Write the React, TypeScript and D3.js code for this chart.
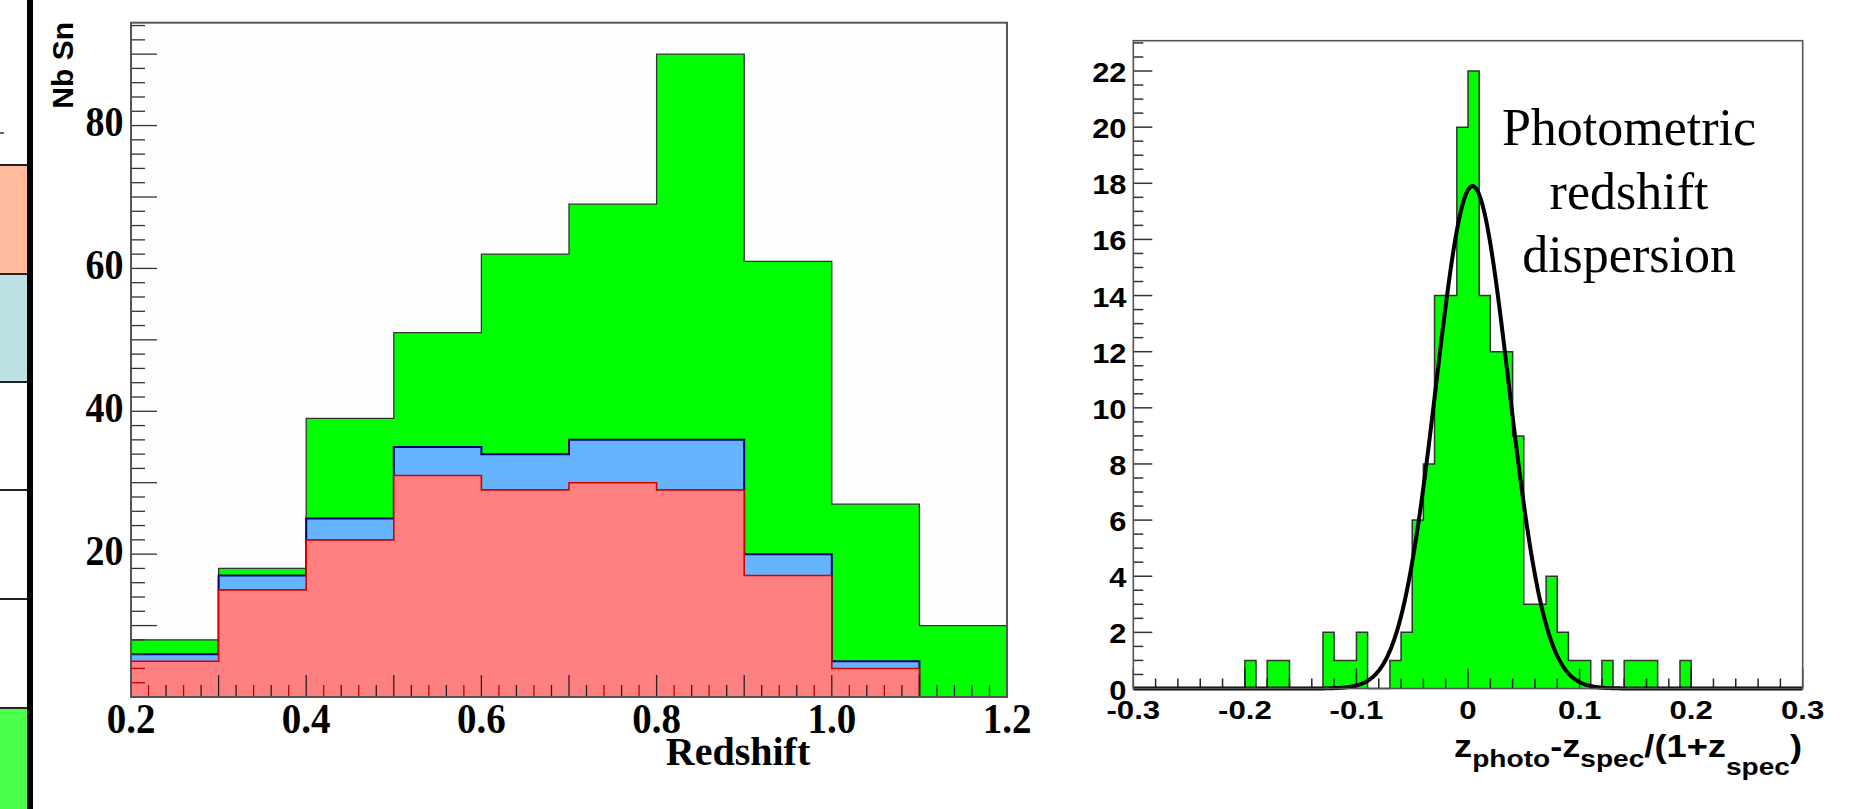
import * as d3 from "d3";

// ---- left panel: redshift distribution (stacked, drawn as overlays) ----
const redshiftEdges = [0.2, 0.3, 0.4, 0.5, 0.6, 0.7, 0.8, 0.9, 1.0, 1.1, 1.2];
const totalCounts = [8, 18, 39, 51, 62, 69, 90, 61, 27, 10];
const blueCounts = [6, 17, 25, 35, 34, 36, 36, 20, 5, 0]; // red + blue
const redCounts = [5, 15, 22, 31, 29, 30, 29, 17, 4, 0];
const leftYLabels = [20, 40, 60, 80];
const leftXLabels = [0.2, 0.4, 0.6, 0.8, 1.0, 1.2];

// ---- right panel: photometric redshift dispersion ----
const dispersionLow = -0.3;
const dispersionBinWidth = 0.01;
const dispersionCounts = [
  0, 0, 0, 0, 0, 0, 0, 0, 0, 0,
  1, 0, 1, 1, 0, 0, 0, 2, 1, 1,
  2, 0, 0, 1, 2, 6, 8, 14, 14, 20,
  22, 14, 12, 12, 9, 3, 3, 4, 2, 1,
  1, 0, 1, 0, 1, 1, 1, 0, 0, 1,
  0, 0, 0, 0, 0, 0, 0, 0, 0, 0,
];
// gaussian fit parameters
const fitConstant = 17.9;
const fitMean = 0.004;
const fitSigma = 0.0325;
const rightXLabels = [-0.3, -0.2, -0.1, 0, 0.1, 0.2, 0.3];
const rightYLabels = [0, 2, 4, 6, 8, 10, 12, 14, 16, 18, 20, 22];
const annotationLines = ["Photometric", "redshift", "dispersion"];

// cropped slide table on the far left
const stripCells = [
  { y0: 0, y1: 165, color: "#ffffff" },
  { y0: 165, y1: 274, color: "#ffbb9b" },
  { y0: 274, y1: 382, color: "#bde0e2" },
  { y0: 382, y1: 490, color: "#ffffff" },
  { y0: 490, y1: 599, color: "#ffffff" },
  { y0: 599, y1: 708, color: "#ffffff" },
  { y0: 708, y1: 809, color: "#4dff4d" },
];

const SANS = "'Liberation Sans', Arial, Helvetica, sans-serif";
const SERIF = "'Liberation Serif', 'Times New Roman', serif";

function stepPoints(edges: number[], counts: number[]): [number, number][] {
  const pts: [number, number][] = [[edges[0], 0]];
  counts.forEach((c, i) => {
    pts.push([edges[i], c]);
    pts.push([edges[i + 1], c]);
  });
  pts.push([edges[edges.length - 1], 0]);
  return pts;
}

function Txt({ x, y, sx = 1, sy = 1, anchor = "middle", size, family, weight = "bold", children }: any) {
  return (
    <text
      transform={`translate(${x},${y}) scale(${sx},${sy})`}
      textAnchor={anchor}
      fontSize={size}
      fontFamily={family}
      fontWeight={weight}
      fill="#000"
    >
      {children}
    </text>
  );
}

function LeftPanel() {
  const x0 = 131, x1 = 1007, yTop = 22.7, yBottom = 697;
  const x = d3.scaleLinear([0.2, 1.2], [x0, x1]);
  const y = d3.scaleLinear([0, 94.4], [yBottom, yTop]);
  const line = d3.line<[number, number]>().x(d => x(d[0])).y(d => y(d[1]));

  const yMinor = d3.range(0, 94.4, 2);
  const xMinor = d3.range(0, 51).map(i => 0.2 + i * 0.02);

  const redAt = (v: number) => {
    const i = Math.min(redCounts.length - 1, Math.floor((v - 0.2) / 0.1 + 1e-6));
    return redCounts[i] > 0;
  };

  return (
    <g>
      <rect x={x0} y={yTop} width={x1 - x0} height={yBottom - yTop} fill="#fefefe" />
      <path d={line(stepPoints(redshiftEdges, totalCounts))!} fill="#00ff00" stroke="#333" strokeWidth={1.3} />
      <path d={line(stepPoints(redshiftEdges, blueCounts))!} fill="#66b3ff" stroke="#00007a" strokeWidth={2} />
      <path d={line(stepPoints(redshiftEdges, redCounts))!} fill="#ff8080" stroke="#d40000" strokeWidth={1.6} />

      {/* y ticks */}
      {yMinor.map(v => {
        const major = Math.abs(v % 10) < 1e-6;
        return (
          <line key={`ly${v}`} x1={x0} x2={x0 + (major ? 26 : 14)} y1={y(v)} y2={y(v)}
            stroke={v > 0 && v < redCounts[0] ? "#c00000" : "#333"} strokeWidth={1.3} />
        );
      })}
      {/* x ticks */}
      {xMinor.map((v, i) => {
        const major = i % 5 === 0;
        return (
          <line key={`lx${i}`} x1={x(v)} x2={x(v)} y1={yBottom} y2={yBottom - (major ? 22 : 12)}
            stroke={!major && redAt(v) && i % 2 === 1 ? "#c00000" : "#222"} strokeWidth={1.3} />
        );
      })}
      <rect x={x0} y={yTop} width={x1 - x0} height={yBottom - yTop} fill="none" stroke="#555" strokeWidth={2} />

      {leftYLabels.map(v => (
        <Txt key={`lyl${v}`} x={123.5} y={y(v) + 10.5} sy={1.12} anchor="end" size={38} family={SERIF}>{v}</Txt>
      ))}
      {leftXLabels.map(v => (
        <Txt key={`lxl${v}`} x={x(v)} y={733} sy={1.1} size={39} family={SERIF}>{v.toFixed(1)}</Txt>
      ))}
      <Txt x={738} y={765} size={40} family={SERIF}>Redshift</Txt>
      <text transform="translate(73,22) rotate(-90)" textAnchor="end" fontSize={30}
        fontFamily={SANS} fontWeight="bold">Nb Sn</text>
    </g>
  );
}

function RightPanel() {
  const x0 = 1133.3, x1 = 1802.7, yTop = 40.7, yBottom = 688.5;
  const x = d3.scaleLinear([-0.3, 0.3], [x0, x1]);
  const y = d3.scaleLinear([0, 23.08], [yBottom, yTop]);
  const line = d3.line<[number, number]>().x(d => x(d[0])).y(d => y(d[1]));

  const edges = d3.range(dispersionCounts.length + 1).map(i => dispersionLow + i * dispersionBinWidth);
  const gauss = (v: number) => fitConstant * Math.exp(-0.5 * ((v - fitMean) / fitSigma) ** 2);
  const fitPts: [number, number][] = d3.range(0, 601).map(i => {
    const v = -0.3 + i * 0.001;
    return [v, gauss(v)];
  });

  const yMinor = d3.range(0, 47).map(i => i * 0.5);
  const xMinor = d3.range(0, 31).map(i => -0.3 + i * 0.02);

  return (
    <g>
      <defs>
        <clipPath id="right-area">
          <rect x={x0} y={yTop} width={x1 - x0} height={yBottom - yTop + 3} />
        </clipPath>
      </defs>
      <path d={line(stepPoints(edges, dispersionCounts))!} fill="#00ff00" stroke="#333" strokeWidth={1.5} />

      {yMinor.map((v, i) => (
        <line key={`ry${i}`} x1={x0} x2={x0 + (i % 4 === 0 ? 19 : 10)} y1={y(v)} y2={y(v)} stroke="#333" strokeWidth={1.5} />
      ))}
      {xMinor.map((v, i) => (
        <line key={`rx${i}`} x1={x(v)} x2={x(v)} y1={yBottom} y2={yBottom - (i % 5 === 0 ? 20 : 10)} stroke="#222" strokeWidth={1.5} />
      ))}

      <path d={line(fitPts)!} fill="none" stroke="#000" strokeWidth={4} clipPath="url(#right-area)" />

      <rect x={x0} y={yTop} width={x1 - x0} height={yBottom - yTop} fill="none" stroke="#555" strokeWidth={1.6} />

      {rightYLabels.map(v => (
        <Txt key={`ryl${v}`} x={1126.5} y={y(v) + 11} sx={1.1} anchor="end" size={28} family={SANS}>{v}</Txt>
      ))}
      {rightXLabels.map(v => (
        <Txt key={`rxl${v}`} x={x(v)} y={719} sx={1.2} size={26} family={SANS}>
          {v === 0 ? "0" : d3.format(".1f")(v).replace("−", "-")}
        </Txt>
      ))}

      {annotationLines.map((s, i) => (
        <Txt key={s} x={1629} y={145 + i * 63.5} size={52} family={SERIF} weight="normal">{s}</Txt>
      ))}

      <text transform="translate(1802,757) scale(1.17,1)" textAnchor="end" fontFamily={SANS} fontWeight="bold" fontSize={31}>
        <tspan>z</tspan>
        <tspan fontSize={24} dy={10}>photo</tspan>
        <tspan dy={-10}>-z</tspan>
        <tspan fontSize={24} dy={10}>spec</tspan>
        <tspan dy={-10}>/(1+z</tspan>
        <tspan fontSize={24} dy={18}>spec</tspan>
        <tspan dy={-18}>)</tspan>
      </text>
    </g>
  );
}

export default function App() {
  return (
    <svg width={1851} height={809} style={{ position: "absolute", left: 0, top: 0, background: "#fff" }}>
      {/* cropped table at the very left */}
      {stripCells.map((c, i) => (
        <rect key={i} x={0} y={c.y0} width={27} height={c.y1 - c.y0} fill={c.color} />
      ))}
      {stripCells.slice(1).map((c, i) => (
        <line key={`sl${i}`} x1={0} x2={27} y1={c.y0} y2={c.y0} stroke="#222" strokeWidth={2} />
      ))}
      <line x1={0} x2={4} y1={133} y2={133} stroke="#333" strokeWidth={1.5} />
      <rect x={27} y={0} width={6} height={809} fill="#000" />
      <LeftPanel />
      <RightPanel />
    </svg>
  );
}
